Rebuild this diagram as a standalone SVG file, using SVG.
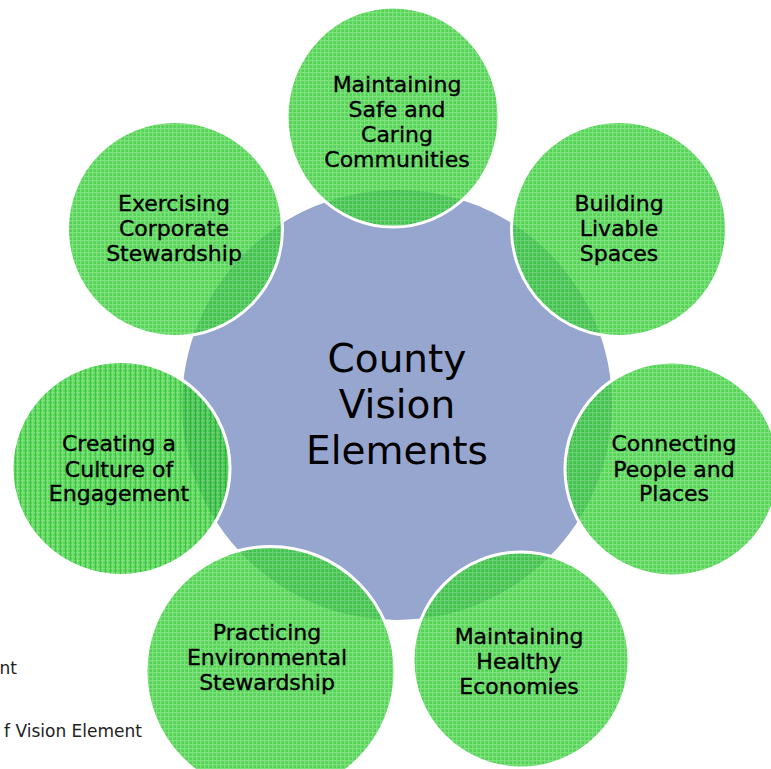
<svg xmlns="http://www.w3.org/2000/svg" width="771" height="769" viewBox="0 0 771 769">
  <defs>
    <pattern id="grid" width="4" height="4" patternUnits="userSpaceOnUse">
      <rect width="4" height="4" fill="#2bc72b"/>
      <rect width="4" height="1.3" fill="#5cd95c"/>
      <rect width="1.3" height="4" fill="#5cd95c"/>
    </pattern>
    <pattern id="gridStripe" width="5" height="4" patternUnits="userSpaceOnUse">
      <rect width="5" height="4" fill="#2bc72b"/>
      <rect width="5" height="1.3" fill="#5cd95c"/>
      <rect x="2" width="1.3" height="4" fill="#5cd95c"/>
      <rect width="1" height="4" fill="#12b812"/>
    </pattern>
  </defs>
  <style>
    .fill { fill: url(#grid); opacity: 0.8; }
    .fillS { fill: url(#gridStripe); opacity: 0.8; }
    .ring { fill: none; stroke: #ffffff; stroke-width: 3; }
    .lbl { font-family: "DejaVu Sans", "Liberation Sans", sans-serif; font-size: 22px; fill: #000; text-anchor: middle; stroke: #000; stroke-width: 0.35; }
    .ctr { font-family: "DejaVu Sans", "Liberation Sans", sans-serif; font-size: 39px; fill: #000; text-anchor: middle; }
    .side { font-family: "DejaVu Sans", "Liberation Sans", sans-serif; font-size: 17px; fill: #222; text-anchor: end; }
  </style>
  <rect width="771" height="769" fill="#ffffff"/>

  <g id="legend-fragments">
    <text class="side" x="17" y="674">nt</text>
    <text class="side" x="142" y="737">f Vision Element</text>
  </g>

  <g id="center">
    <circle cx="397" cy="405" r="215" fill="#97a6cf"/>
  </g>

  <g id="n-safe">
    <ellipse class="fill" cx="393" cy="117" rx="106" ry="110"/>
    <ellipse class="ring" cx="393" cy="117" rx="106" ry="110"/>
  </g>
  <g id="n-livable">
    <circle class="fill" cx="619" cy="229" r="107.5"/>
    <circle class="ring" cx="619" cy="229" r="107.5"/>
  </g>
  <g id="n-connecting">
    <circle class="fill" cx="672" cy="469" r="107"/>
    <circle class="ring" cx="672" cy="469" r="107"/>
  </g>
  <g id="n-economies">
    <circle class="fill" cx="521" cy="660" r="108"/>
    <circle class="ring" cx="521" cy="660" r="108"/>
  </g>
  <g id="n-environmental">
    <circle class="fill" cx="270.5" cy="671" r="124.5"/>
    <circle class="ring" cx="270.5" cy="671" r="124.5"/>
  </g>
  <g id="n-engagement">
    <ellipse class="fillS" cx="121" cy="468.5" rx="109" ry="107"/>
    <ellipse class="ring" cx="121" cy="468.5" rx="109" ry="107"/>
  </g>
  <g id="n-corporate">
    <circle class="fill" cx="175" cy="229" r="107.5"/>
    <circle class="ring" cx="175" cy="229" r="107.5"/>
  </g>

  <g id="labels">
    <text class="ctr" x="397" y="372">County</text>
    <text class="ctr" x="397" y="418">Vision</text>
    <text class="ctr" x="397" y="464">Elements</text>

    <text class="lbl" x="397" y="91.5">Maintaining</text>
    <text class="lbl" x="397" y="116.5">Safe and</text>
    <text class="lbl" x="397" y="141.5">Caring</text>
    <text class="lbl" x="397" y="166.5">Communities</text>

    <text class="lbl" x="619" y="211">Building</text>
    <text class="lbl" x="619" y="236">Livable</text>
    <text class="lbl" x="619" y="261">Spaces</text>

    <text class="lbl" x="674" y="451">Connecting</text>
    <text class="lbl" x="674" y="476.5">People and</text>
    <text class="lbl" x="674" y="501">Places</text>

    <text class="lbl" x="519" y="644">Maintaining</text>
    <text class="lbl" x="519" y="669">Healthy</text>
    <text class="lbl" x="519" y="694">Economies</text>

    <text class="lbl" x="267" y="640">Practicing</text>
    <text class="lbl" x="267" y="664.5">Environmental</text>
    <text class="lbl" x="267" y="689.5">Stewardship</text>

    <text class="lbl" x="119" y="451">Creating a</text>
    <text class="lbl" x="119" y="476.5">Culture of</text>
    <text class="lbl" x="119" y="501">Engagement</text>

    <text class="lbl" x="174" y="211">Exercising</text>
    <text class="lbl" x="174" y="236">Corporate</text>
    <text class="lbl" x="174" y="261">Stewardship</text>
  </g>
</svg>
